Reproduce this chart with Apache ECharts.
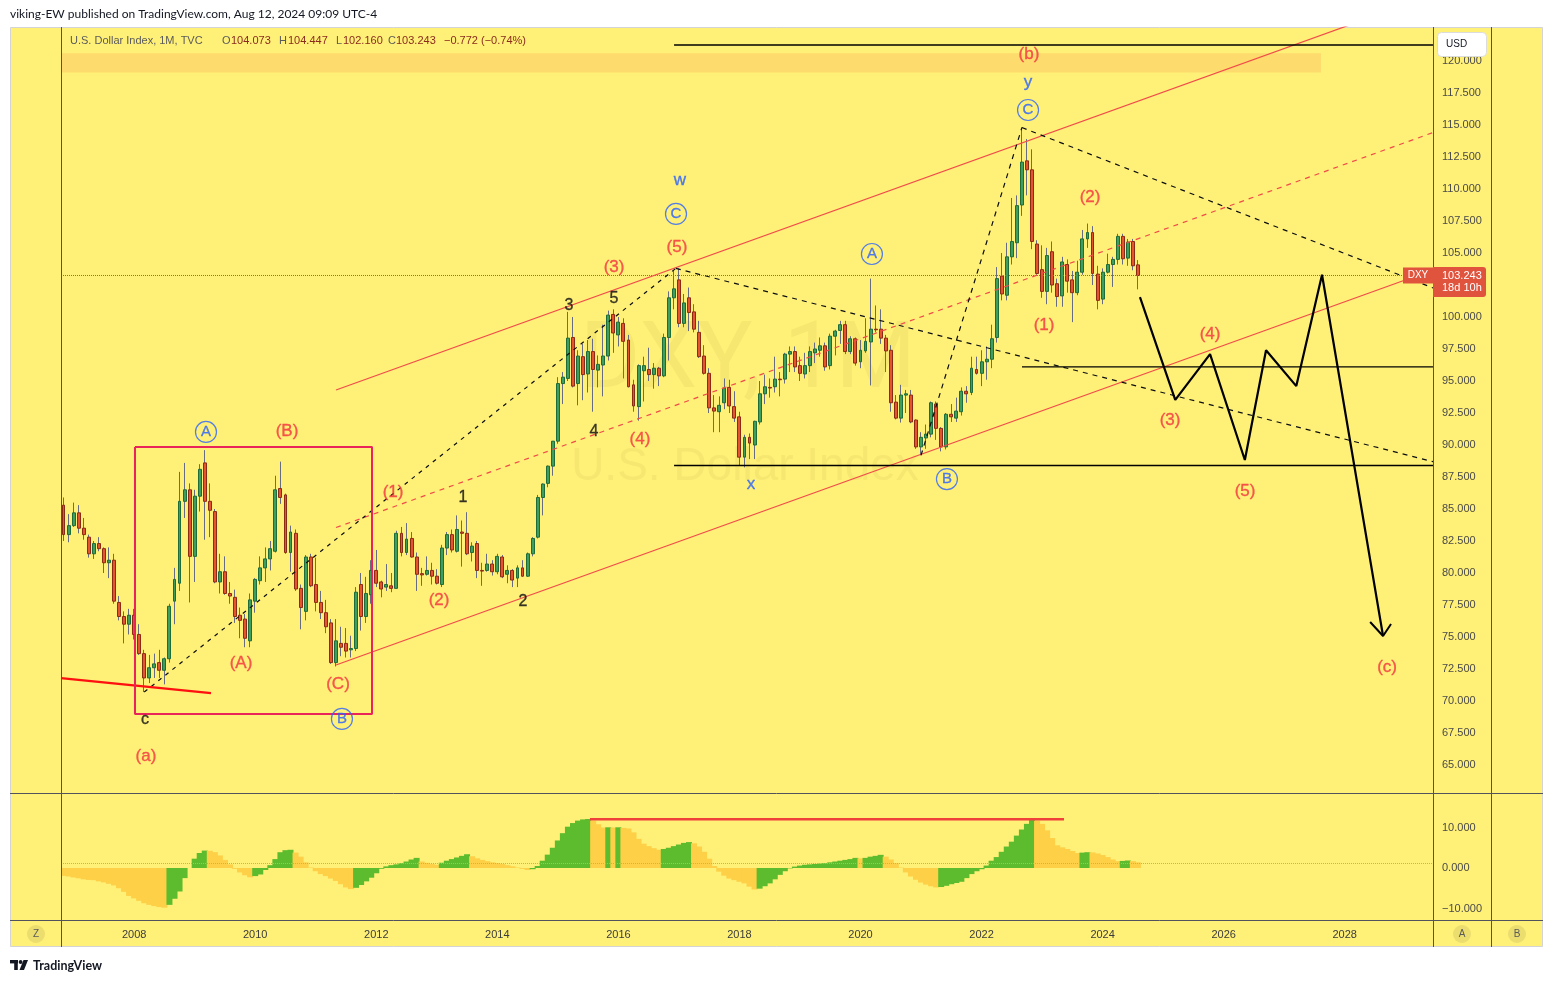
<!DOCTYPE html>
<html>
<head>
<meta charset="utf-8">
<title>U.S. Dollar Index 1M</title>
<script src="https://cdn.jsdelivr.net/npm/echarts@6/dist/echarts.min.js"></script>
<style>
html,body{margin:0;padding:0;background:#ffffff;}
#chart{width:1553px;height:983px;}
</style>
</head>
<body>
<div id="chart"></div>
<script>
// ---------------- DATA ----------------
// Monthly OHLC [open, high, low, close] of the U.S. Dollar Index, starting Nov 2006
const dxy2006 = [[85.3,85.9,82.5,83.0],[83.0,84.6,82.4,83.7]];
const dxy2007 = [[83.7,85.5,83.6,84.7],[84.7,85.3,83.1,83.5],[83.5,84.3,82.6,83.0],[82.8,83.0,81.2,81.5],[81.5,82.5,81.1,82.3],[82.3,82.8,81.7,81.9],[81.9,82.0,80.0,80.8],[80.8,82.0,79.6,81.0],[81.0,81.5,77.6,77.8],[77.7,78.2,76.3,76.6],[76.6,77.0,74.5,76.0],[76.0,77.2,75.2,76.7]];
const dxy2008 = [[76.7,77.2,74.8,75.2],[75.2,76.0,73.6,73.7],[73.7,74.0,70.7,71.8],[71.8,73.6,71.4,72.6],[72.6,73.7,71.8,72.9],[73.0,74.0,71.8,72.4],[72.4,73.4,71.3,73.3],[73.3,77.6,73.0,77.4],[77.8,80.4,76.0,79.5],[79.2,87.9,78.6,85.6],[85.6,88.6,84.3,86.5],[86.5,87.0,77.7,81.3]];
const dxy2009 = [[81.3,86.5,79.3,86.0],[86.0,88.5,84.8,88.1],[88.6,89.6,82.6,85.6],[85.6,87.0,82.8,84.9],[84.8,85.0,79.2,79.3],[79.3,81.5,78.4,80.1],[80.1,81.3,78.3,78.4],[78.4,79.3,77.6,78.2],[78.1,78.7,76.1,76.6],[76.7,77.3,74.9,76.3],[76.4,76.8,74.2,74.9],[74.7,78.4,74.2,77.9]];
const dxy2010 = [[77.8,79.6,76.9,79.5],[79.4,81.3,79.1,80.4],[80.4,82.0,79.3,81.1],[81.1,82.5,80.2,81.9],[81.7,87.6,81.6,86.5],[86.6,88.7,85.4,85.9],[86.1,86.2,81.5,81.6],[81.6,83.7,80.1,83.2],[83.1,83.4,78.6,78.75],[78.8,79.1,75.6,77.3],[77.0,81.4,76.3,81.25],[81.25,81.5,78.9,79.0]];
const dxy2011 = [[79.1,81.2,77.0,77.7],[77.7,78.6,76.4,76.9],[76.9,77.9,75.3,75.8],[76.1,76.4,72.9,73.0],[73.0,76.4,72.7,74.7],[74.5,75.8,73.5,74.2],[74.5,75.7,73.4,73.9],[74.0,75.1,73.4,74.1],[74.1,78.9,73.9,78.5],[79.1,80.0,75.5,76.6],[76.6,79.7,76.1,78.4],[78.3,81.0,77.6,80.2]];
const dxy2012 = [[80.2,81.8,78.9,79.2],[79.3,79.4,78.1,78.75],[78.9,80.7,78.6,79.1],[79.0,80.0,78.5,78.8],[78.8,83.3,78.8,83.1],[83.1,83.6,81.3,81.6],[81.6,83.9,81.4,82.65],[82.7,83.2,81.2,81.25],[81.25,81.6,78.6,79.9],[79.95,80.4,79.0,79.85],[79.9,81.3,79.8,80.2],[80.2,80.8,79.1,79.75]];
const dxy2013 = [[79.75,80.3,79.1,79.2],[79.1,82.2,78.9,81.95],[81.95,83.2,81.4,83.0],[83.0,83.4,81.6,81.8],[81.7,84.5,81.6,83.4],[83.2,84.1,80.5,83.1],[83.1,84.75,81.4,81.5],[81.6,82.4,80.9,82.1],[82.3,82.5,79.6,80.2],[80.2,80.8,79.0,80.15],[80.2,81.5,80.1,80.7],[80.7,81.0,79.8,80.1]];
const dxy2014 = [[80.1,81.5,79.9,81.3],[81.25,81.4,79.6,79.7],[79.9,80.6,79.2,80.2],[80.2,80.3,78.9,79.45],[79.6,80.6,78.9,80.4],[80.4,81.0,79.7,79.75],[79.75,81.6,79.7,81.5],[81.5,82.8,81.3,82.7],[82.8,86.1,82.7,85.9],[85.9,87.0,84.5,86.95],[87.0,88.4,86.7,88.35],[88.35,90.3,87.6,90.3]];
const dxy2015 = [[90.3,95.3,90.1,94.8],[94.8,95.7,93.2,95.3],[95.2,100.4,95.0,98.35],[98.4,100.0,94.5,94.6],[94.8,97.4,93.1,96.95],[96.9,97.9,93.5,95.5],[95.55,98.2,94.1,97.3],[97.3,98.3,92.6,95.9],[95.85,97.0,94.5,96.3],[96.25,99.4,93.8,96.95],[96.95,100.5,96.6,100.15],[100.2,100.6,97.2,98.75]];
const dxy2016 = [[98.6,100.0,97.7,99.6],[99.5,99.9,95.2,98.1],[98.2,98.6,94.5,94.55],[94.7,95.1,92.6,93.05],[93.0,96.3,91.9,96.2],[95.8,96.9,93.4,96.2],[95.9,97.6,95.0,95.5],[95.5,96.4,94.4,96.0],[96.0,96.1,94.6,95.4],[95.4,98.7,95.3,98.4],[98.4,102.0,96.6,101.5],[101.5,103.65,100.6,102.2]];
const dxy2017 = [[102.9,103.8,99.2,99.5],[99.5,101.8,99.2,101.1],[101.5,102.3,98.9,100.35],[100.4,101.0,98.8,99.05],[98.8,99.7,96.8,96.9],[96.95,97.8,95.5,95.6],[95.6,96.0,92.5,92.9],[92.9,93.9,91.0,92.65],[92.6,93.8,91.0,93.1],[93.3,95.2,92.8,94.45],[94.5,95.1,92.5,93.05],[93.0,94.2,91.8,92.1]];
const dxy2018 = [[92.2,92.6,88.4,89.05],[89.05,90.8,88.25,90.6],[90.6,90.9,88.9,90.15],[90.0,91.9,88.9,91.85],[91.8,95.0,91.6,94.0],[94.0,95.5,93.2,94.55],[94.5,95.2,93.7,94.45],[94.55,96.9,94.1,95.15],[95.15,95.7,93.8,95.1],[95.15,97.2,94.8,97.1],[97.1,97.7,95.7,97.3],[97.3,97.7,95.7,96.1]];
const dxy2019 = [[96.2,96.9,95.0,95.6],[95.55,97.2,95.2,96.2],[96.2,97.7,95.7,97.3],[97.2,98.0,96.4,97.5],[97.4,98.4,96.9,97.75],[97.75,98.0,95.8,96.1],[96.2,98.7,95.9,98.5],[98.5,99.0,97.0,98.9],[98.95,99.7,97.9,99.4],[99.4,99.7,97.1,97.3],[97.3,98.5,97.1,98.3],[98.3,98.4,96.2,96.4]];
const dxy2020 = [[96.5,98.2,96.0,97.4],[97.35,99.9,97.2,98.1],[98.05,103.0,94.65,99.05],[99.05,100.9,98.8,99.0],[99.05,100.6,97.9,98.35],[98.35,98.6,95.7,97.35],[97.4,97.8,92.6,93.3],[93.35,93.9,92.0,92.1],[92.1,94.7,91.75,93.9],[93.9,94.3,92.5,94.0],[93.9,94.3,91.7,91.8],[91.95,92.0,89.7,89.85]];
const dxy2021 = [[89.85,91.0,89.2,90.6],[90.55,91.6,89.7,90.85],[90.85,93.4,90.6,93.3],[93.2,93.4,90.4,91.3],[91.3,91.4,89.5,89.85],[89.85,92.5,89.65,92.4],[92.4,93.2,91.8,92.2],[92.1,93.7,91.8,92.65],[92.6,94.5,92.3,94.2],[94.2,94.6,93.3,94.0],[94.1,96.9,93.9,96.0],[95.9,96.9,95.5,95.6]];
const dxy2022 = [[95.6,97.4,94.6,96.5],[96.5,97.7,95.1,96.7],[96.7,99.4,96.0,98.3],[98.4,103.9,98.0,103.0],[103.2,105.0,101.3,101.8],[101.7,105.8,101.3,104.7],[104.7,109.3,104.1,105.9],[105.8,109.5,104.6,108.7],[108.75,114.8,107.9,112.1],[112.2,113.9,109.5,111.5],[111.5,113.1,105.3,105.9],[105.7,106.0,103.3,103.4]];
const dxy2023 = [[103.7,105.6,101.5,102.0],[102.0,105.4,101.0,104.8],[105.1,105.9,101.9,102.5],[102.6,103.0,100.8,101.6],[101.65,104.7,100.8,104.3],[104.1,104.5,101.9,102.8],[102.9,103.6,99.6,101.9],[101.9,104.4,101.7,103.5],[103.5,106.8,103.3,106.1],[106.1,107.3,105.4,106.6],[106.6,107.1,102.5,103.4],[103.35,104.0,100.6,101.3]];
const dxy2024 = [[101.4,103.8,101.0,103.5],[103.5,104.95,103.4,104.1],[104.1,104.7,102.35,104.5],[104.5,106.5,104.1,106.3],[106.3,106.5,104.1,104.55],[104.6,106.1,104.0,105.85],[105.9,106.1,103.65,104.0],[104.073,104.447,102.16,103.243]];

// Oscillator (lower pane) monthly values, same months as the candles
const oscillator = [
 -1.95,-2.1,-2.35,-2.55,-2.8,-2.95,-3.0,-3.3,-3.55,-3.9,
 -4.3,-5.0,-5.9,-6.9,-7.5,-8.1,-8.7,-9.1,-9.4,-9.65,
 -9.8,-9.1,-7.6,-5.8,-2.5,0.0,2.3,3.7,4.3,4.25,
 3.9,3.1,2.0,0.9,-0.2,-1.1,-1.8,-2.3,-2.0,-1.6,
 -0.5,0.7,2.2,3.9,4.4,4.5,3.8,2.8,1.4,0.1,
 -0.8,-1.5,-2.0,-2.6,-3.2,-4.0,-4.8,-5.2,-4.9,-4.2,
 -3.3,-2.4,-1.3,-0.2,0.4,0.7,0.9,1.2,1.6,2.1,
 2.5,1.6,1.3,1.0,0.8,1.3,1.8,2.2,2.6,3.0,
 3.4,2.9,2.4,2.0,1.7,1.4,1.2,1.0,0.7,0.4,
 0.1,-0.2,-0.5,-0.3,0.5,1.8,3.3,5.0,6.8,8.6,
 10.2,11.1,11.7,12.0,12.1,11.7,10.8,10.0,10.05,10.0,
 10.05,9.9,9.75,8.8,7.2,6.0,5.4,4.9,4.5,4.7,
 5.0,5.4,5.8,6.2,6.4,6.1,5.3,4.0,2.3,0.5,
 -0.9,-1.9,-2.6,-3.0,-3.4,-3.8,-4.6,-5.3,-5.1,-4.5,
 -3.8,-2.8,-1.7,-0.8,-0.1,0.35,0.6,0.8,0.9,1.0,
 1.1,1.2,1.4,1.6,1.8,2.0,2.2,2.5,2.4,2.5,
 2.8,3.0,3.25,2.8,2.1,1.2,0.1,-1.1,-2.1,-2.9,
 -3.6,-4.1,-4.5,-4.8,-4.7,-4.4,-4.0,-3.7,-3.4,-2.5,
 -1.5,-0.8,-0.3,0.6,1.8,2.7,4.0,5.3,6.5,8.0,
 9.5,10.9,12.0,11.7,10.9,9.3,7.4,5.6,5.1,4.7,
 4.2,3.7,3.8,3.9,3.85,3.6,3.2,2.7,2.1,1.7,
 1.75,1.85,1.7,1.4
];

// Axis ticks
const priceTickStep = 2.5;
const yearTicks = ['2008','2010','2012','2014','2016','2018','2020','2022','2024','2026','2028'];
const oscTicks = [-10, 0, 10];

// Annotations: [decimal year (Jan = .0), price]
const channelUpper = [[2011.335, 94.3], [2029.458, 125.16]];
const channelLower = [[2011.335, 72.81], [2029.458, 103.67]];
const channelMid   = [[2011.335, 83.55], [2029.458, 114.41]];
const dashCtoW  = [[2008.167, 70.7], [2016.95, 103.8]];
const dashWtoX  = [[2016.95, 103.8], [2029.458, 88.7]];
const dashBtoY  = [[2021.0, 89.2], [2022.667, 114.8]];
const dashYout  = [[2022.667, 114.8], [2029.458, 102.27]];
const hLineTop  = [[2016.92, 121.25], [2029.458, 121.25]];
const hLineMid  = [[2022.668, 96.1], [2029.458, 96.1]];
const hLineLow  = [[2016.92, 88.4], [2029.458, 88.4]];
const leftRedLine = [[2006.7917, 71.78], [2009.27, 70.61]];
const boxCorners = [[2008.014, 89.84], [2011.93, 68.98]];
const topBand = [[2006.7917, 119.1], [2027.608, 120.6]];
const projectionPath = [[2024.617,101.56],[2025.2,93.52],[2025.775,97.1],[2026.35,88.83],[2026.7,97.4],[2027.2,94.6],[2027.625,103.3],[2028.633,75.08]];
const arrowHead = [[2028.42,76.17],[2028.633,75.08],[2028.765,76.02]];
const oscTopLine = [[2015.531, 12.05], [2023.362, 12.05]];
const oscDottedLevel = 1.25;
const lastClose = 103.243;

const redLabels = [
 [2008.196,65.70,'(a)'],[2009.766,72.97,'(A)'],[2010.525,91.09,'(B)'],[2011.368,71.33,'(C)'],
 [2012.277,86.33,'(1)'],[2013.037,77.89,'(2)'],[2015.928,103.91,'(3)'],[2016.357,90.47,'(4)'],[2016.968,105.47,'(5)'],
 [2022.784,120.55,'(b)'],[2023.032,99.38,'(1)'],[2023.792,109.38,'(2)'],[2025.114,91.95,'(3)'],[2025.775,98.67,'(4)'],[2026.353,86.41,'(5)'],[2028.699,72.66,'(c)']
];
const blackLabels = [[2008.179,68.52,'c'],[2013.433,85.86,'1'],[2014.425,77.73,'2'],[2015.184,100.86,'3'],[2015.597,91.02,'4'],[2015.928,101.41,'5']];
const blueLabels = [[2017.018,110.7,'w'],[2018.19,86.95,'x'],[2022.768,118.36,'y']];
const circledLabels = [[2009.187,91.02,'A'],[2011.433,68.6,'B'],[2016.952,108.05,'C'],[2020.189,104.92,'A'],[2021.428,87.34,'B'],[2022.768,116.17,'C']];

// ---------------- BUILD ----------------
const FIRST_YEAR = 2006, FIRST_MONTH = 10, SLOTS = 272;
const months = [];
for (let k = 0; k < SLOTS; k++) {
  const m = FIRST_MONTH + k;
  months.push((FIRST_YEAR + Math.floor(m / 12)) + '-' + String(m % 12 + 1).padStart(2, '0'));
}
const X_MIN = FIRST_YEAR + FIRST_MONTH / 12 - 0.5 / 12;
const X_MAX = X_MIN + SLOTS / 12;

const candles = [].concat(dxy2006,dxy2007,dxy2008,dxy2009,dxy2010,dxy2011,dxy2012,dxy2013,dxy2014,dxy2015,dxy2016,dxy2017,dxy2018,dxy2019,dxy2020,dxy2021,dxy2022,dxy2023,dxy2024);

const FONT = 'Liberation Sans, Arial, sans-serif';
const RED = '#F2333F', BLUE = '#2962FF', BLACK = '#0b0d12';
const WICK = '#686c80';
const GREEN_OSC = '#5DBC2E', ORANGE_OSC = '#FDD047';

function fixedLine(data, color, width, type, z, xi, yi) {
  return {type:'line', xAxisIndex: xi == null ? 1 : xi, yAxisIndex: yi == null ? 0 : yi, data: data,
    symbol:'none', silent:true, animation:false, clip:true,
    lineStyle:{color:color, width:width, type:type || 'solid'}, z: z || 5};
}
function labelSeries(data, color, size, weight) {
  return {type:'scatter', xAxisIndex:1, yAxisIndex:0, data:data, symbolSize:1, silent:true, z:8,
    itemStyle:{color:'rgba(0,0,0,0)'},
    label:{show:true, position:'inside', formatter:p => p.data[2], color:color, fontSize:size, fontFamily:FONT, fontWeight: weight || 'normal',
      textBorderColor:color, textBorderWidth:0.35}};
}

const boxPath = [[boxCorners[0][0],boxCorners[0][1]],[boxCorners[1][0],boxCorners[0][1]],[boxCorners[1][0],boxCorners[1][1]],[boxCorners[0][0],boxCorners[1][1]],[boxCorners[0][0],boxCorners[0][1]]];

const oscColor = i => (i > 0 && oscillator[i] >= oscillator[i-1]) ? GREEN_OSC : ORANGE_OSC;

const option = {
  backgroundColor:'#ffffff',
  animation:false,
  grid:[
    {left:61, top:27, width:1372, height:770},
    {left:61, top:787, width:1372, height:141.75}
  ],
  xAxis:[
    {type:'category', gridIndex:0, data:months, boundaryGap:true, show:false},
    {type:'value', gridIndex:0, min:X_MIN, max:X_MAX, show:false},
    {type:'category', gridIndex:1, data:months, boundaryGap:true, z:6,
      axisLine:{show:false}, axisTick:{show:false}, splitLine:{show:false},
      axisLabel:{interval:(i, v) => v.slice(5) === '01' && yearTicks.indexOf(v.slice(0,4)) >= 0,
        formatter:v => v.slice(0,4), color:'#3b3b3b', fontSize:11, fontFamily:FONT, margin:6, verticalAlign:'middle'}},
    {type:'value', gridIndex:1, min:X_MIN, max:X_MAX, show:false}
  ],
  yAxis:[
    {type:'value', gridIndex:0, position:'right', min:62.5, max:122.65625, interval:priceTickStep, z:6,
      splitLine:{show:false}, axisLine:{show:false}, axisTick:{show:false},
      axisLabel:{formatter:v => (v > 64.9 && v < 120.1) ? v.toFixed(3) : '', color:'#4a4a4a', fontSize:11, fontFamily:FONT, margin:9, align:'left'}},
    {type:'value', gridIndex:1, position:'right', min:-15, max:20, interval:5, z:6,
      splitLine:{show:false}, axisLine:{show:false}, axisTick:{show:false},
      axisLabel:{formatter:v => oscTicks.indexOf(v) >= 0 ? (v < 0 ? '\u2212' + Math.abs(v).toFixed(3) : v.toFixed(3)) : '', color:'#4a4a4a', fontSize:11, fontFamily:FONT, margin:9, align:'left'}}
  ],
  series:[
    // top highlight band
    {type:'line', xAxisIndex:1, yAxisIndex:0, data:[], silent:true, z:1,
      markArea:{silent:true, itemStyle:{color:'#FDDB6C'}, data:[[{coord:topBand[0]},{coord:topBand[1]}]]}},
    // candles: wicks, then bodies
    {type:'candlestick', xAxisIndex:0, yAxisIndex:0, barWidth:1, silent:true, z:3,
      data:candles.map(r => [r[0], r[3], r[2], r[1]]),
      itemStyle:{color:WICK, color0:WICK, borderColor:WICK, borderColor0:WICK, borderColorDoji:WICK, borderWidth:1}},
    {type:'candlestick', xAxisIndex:0, yAxisIndex:0, barWidth:3.4, silent:true, z:4,
      data:candles.map(r => [r[0], r[3], Math.min(r[0], r[3]), Math.max(r[0], r[3])]),
      itemStyle:{color:'#3F9D5E', color0:'#E4542F', borderColor:'#1F6B3A', borderColor0:'#8C2B14', borderColorDoji:'#8C2B14', borderWidth:1}},
    // oscillator columns
    {type:'bar', xAxisIndex:2, yAxisIndex:1, barWidth:6, barGap:'-100%', silent:true, z:3,
      data:oscillator.map((v, i) => ({value:v, itemStyle:{color:oscColor(i), borderWidth:0}})),
      markLine:{silent:true, symbol:['none','none'], label:{show:false},
        lineStyle:{color:'#F5A623', type:'dotted', width:1}, data:[{yAxis:oscDottedLevel}]}},
    fixedLine(oscTopLine, '#F0403C', 2.5, 'solid', 6, 3, 1),
    // lines on price pane
    fixedLine([[X_MIN, lastClose],[X_MAX, lastClose]], '#E8453C', 1, 'dotted', 5),
    fixedLine(channelUpper, '#F24A4A', 1.2, 'solid', 5),
    fixedLine(channelLower, '#F24A4A', 1.2, 'solid', 5),
    fixedLine(channelMid, '#F24A4A', 1.2, [5,5], 5),
    fixedLine(dashCtoW, BLACK, 1.2, [4,5], 5),
    fixedLine(dashWtoX, BLACK, 1.2, [5,5], 5),
    fixedLine(dashBtoY, BLACK, 1.2, [5,5], 5),
    fixedLine(dashYout, BLACK, 1.2, [5,5], 5),
    fixedLine(hLineTop, '#000000', 1.6, 'solid', 5),
    fixedLine(hLineMid, '#000000', 1.3, 'solid', 5),
    fixedLine(hLineLow, '#000000', 1.3, 'solid', 5),
    fixedLine(leftRedLine, '#FF1010', 2.2, 'solid', 5),
    fixedLine(boxPath, '#E8245A', 2, 'solid', 5),
    fixedLine(projectionPath, '#000000', 2.2, 'solid', 6),
    fixedLine(arrowHead, '#000000', 2, 'solid', 6),
    // wave labels
    labelSeries(redLabels, RED, 17),
    labelSeries(blackLabels, BLACK, 16),
    labelSeries(blueLabels, BLUE, 17),
    {type:'scatter', xAxisIndex:1, yAxisIndex:0, data:circledLabels, symbol:'circle', symbolSize:21, silent:true, z:8,
      itemStyle:{color:'rgba(0,0,0,0)', borderColor:BLUE, borderWidth:1.2},
      label:{show:true, position:'inside', formatter:p => p.data[2], color:BLUE, fontSize:15, fontFamily:FONT, textBorderColor:BLUE, textBorderWidth:0.3}}
  ]
};

const chart = echarts.init(document.getElementById('chart'), null, {renderer:'canvas', width:1553, height:983});
chart.setOption(option);

// ---------------- CHROME (graphic) ----------------
const py = chart.convertToPixel({yAxisIndex:0}, lastClose);
const sep = '#50535e';
function vline(x, y1, y2) { return {type:'line', z:7, shape:{x1:x, y1:y1, x2:x, y2:y2}, style:{stroke:sep, lineWidth:1}}; }
function hline(y, x1, x2) { return {type:'line', z:7, shape:{x1:x1, y1:y, x2:x2, y2:y}, style:{stroke:sep, lineWidth:1}}; }
function txt(x, y, s, font, fill, align, z) {
  return {type:'text', x:x, y:y, z:z || 9, style:{text:s, font:font, fill:fill, textAlign:align || 'left', align:align || 'left', textVerticalAlign:'middle', verticalAlign:'middle'}};
}
function roundBtn(x, y, s) {
  return [{type:'circle', z:7, shape:{cx:x, cy:y, r:9}, style:{fill:'rgba(0,0,0,0.08)'}},
          txt(x, y + 0.5, s, '10px ' + FONT, '#5a5a5a', 'center')];
}

const elements = [
  {type:'rect', z:0, shape:{x:10.5, y:27.5, width:1532, height:919}, style:{fill:'#FFF078', stroke:'#d4d4d4', lineWidth:1}},
  // watermark
  txt(748, 364, 'DXY, 1M', '92px Roboto, ' + FONT, 'rgba(130,115,30,0.075)', 'center', 1),
  txt(745, 467, 'U.S. Dollar Index', '46px ' + FONT, 'rgba(130,115,30,0.075)', 'center', 1),
  vline(61.5, 27, 947), vline(1433.5, 27, 947), vline(1491.5, 27, 947),
  hline(793.5, 10, 1543), hline(920.5, 10, 1543),
  // titles
  txt(10, 14, 'viking-EW published on TradingView.com, Aug 12, 2024 09:09 UTC-4', '12px Lato, ' + FONT, '#131722'),
  txt(70, 41, 'U.S. Dollar Index, 1M, TVC', '11px ' + FONT, '#5b5b5b'),
  txt(222, 41, 'O', '11px ' + FONT, '#5b5b5b'), txt(231, 41, '104.073', '11px ' + FONT, '#8a2b1c'),
  txt(279, 41, 'H', '11px ' + FONT, '#5b5b5b'), txt(288, 41, '104.447', '11px ' + FONT, '#8a2b1c'),
  txt(336, 41, 'L', '11px ' + FONT, '#5b5b5b'), txt(343, 41, '102.160', '11px ' + FONT, '#8a2b1c'),
  txt(388, 41, 'C', '11px ' + FONT, '#5b5b5b'), txt(396, 41, '103.243', '11px ' + FONT, '#8a2b1c'),
  txt(444, 41, '\u22120.772 (\u22120.74%)', '11px ' + FONT, '#8a2b1c'),
  // USD box
  {type:'rect', z:9, shape:{x:1437.5, y:32.5, width:49, height:24, r:4}, style:{fill:'#ffffff', stroke:'#dcdcdc', lineWidth:1}},
  txt(1446, 44.5, 'USD', '10px ' + FONT, '#131722'),
  // last price tags
  {type:'rect', z:9, shape:{x:1403, y:py - 8, width:30, height:16}, style:{fill:'#E0533D'}},
  txt(1418, py, 'DXY', '10px ' + FONT, '#ffffff', 'center'),
  {type:'rect', z:9, shape:{x:1433, y:py - 8.5, width:53, height:30, r:[0,3,3,0]}, style:{fill:'#E0533D'}},
  txt(1442, py, lastClose.toFixed(3), '11px ' + FONT, '#ffffff'),
  txt(1442, py + 12.5, '18d 10h', '11px ' + FONT, '#ffffff'),
  // TradingView logo
  {type:'rect', z:9, shape:{x:10, y:960, width:8, height:3.4}, style:{fill:'#131722'}},
  {type:'rect', z:9, shape:{x:14.2, y:960, width:3.6, height:10}, style:{fill:'#131722'}},
  {type:'circle', z:9, shape:{cx:20.6, cy:962, r:1.9}, style:{fill:'#131722'}},
  {type:'polygon', z:9, shape:{points:[[23.5,960],[28,960],[24,970],[19.5,970]]}, style:{fill:'#131722'}},
  txt(33, 965.5, 'TradingView', 'bold 12.5px Lato, ' + FONT, '#131722')
].concat(roundBtn(36, 934, 'Z'), roundBtn(1462, 934, 'A'), roundBtn(1517, 934, 'B'));

chart.setOption({graphic:{elements:elements}});
</script>
</body>
</html>
